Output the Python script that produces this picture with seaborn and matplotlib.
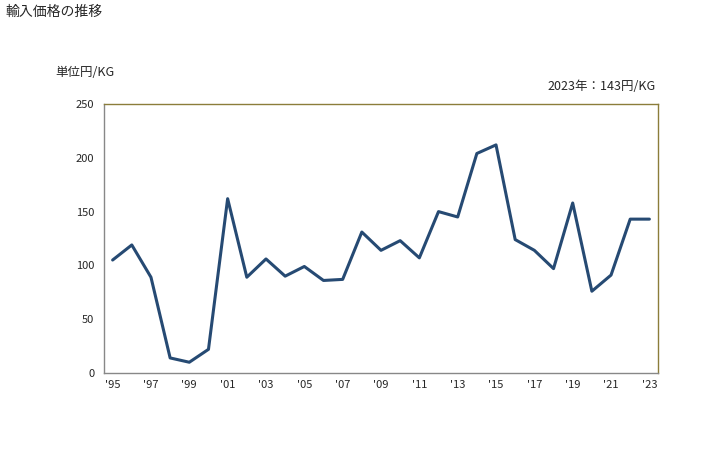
import matplotlib
matplotlib.use("Agg")
import matplotlib.pyplot as plt
import seaborn as sns
import pandas as pd

years = list(range(1995, 2024))
values = [105, 119, 89, 14, 10, 22, 162, 89, 106, 90, 99, 86, 87, 131, 114, 123,
          107, 150, 145, 204, 212, 124, 114, 97, 158, 76, 91, 143, 143]
tick_years = list(range(1995, 2024, 2))
tick_labels = ["'" + str(y)[2:] for y in tick_years]
y_ticks = [0, 50, 100, 150, 200, 250]

sns.set_style("white")
plt.rcParams['font.family'] = ['Noto Sans CJK JP', 'DejaVu Sans']

df = pd.DataFrame({"year": years, "value": values})

fig = plt.figure(figsize=(7.28, 4.5), dpi=100)
ax = fig.add_axes([104/728, 77/450, 554/728, 269/450])
sns.lineplot(data=df, x="year", y="value", ax=ax, color="#264a73", linewidth=2.2)

ax.set_xlim(1994.55, 2023.45)
ax.set_ylim(0, 250)
ax.set_xticks(tick_years)
ax.set_xticklabels(tick_labels, fontsize=8)
ax.set_yticks(y_ticks)
ax.set_yticklabels([str(v) for v in y_ticks], fontsize=8)
ax.set_xlabel("")
ax.set_ylabel("")
ax.tick_params(axis='y', direction='out', length=4, width=0.8, color='#888888', pad=3)
ax.tick_params(axis='x', length=0, pad=5)

for side in ['left', 'bottom']:
    ax.spines[side].set_color('#888888')
    ax.spines[side].set_linewidth(1.0)
for side in ['top', 'right']:
    ax.spines[side].set_color('#8b7d3a')
    ax.spines[side].set_linewidth(1.0)
    ax.spines[side].set_visible(True)

fig.text(6/728, 1 - 12/450, "輸入価格の推移", fontsize=10, ha='left', va='center')
fig.text(55/728, 1 - 73/450, "単位円/KG", fontsize=9, ha='left', va='center')
fig.text(656/728, 1 - 86/450, "2023年：143円/KG", fontsize=9, ha='right', va='center')

fig.savefig("out.png", dpi=100)
